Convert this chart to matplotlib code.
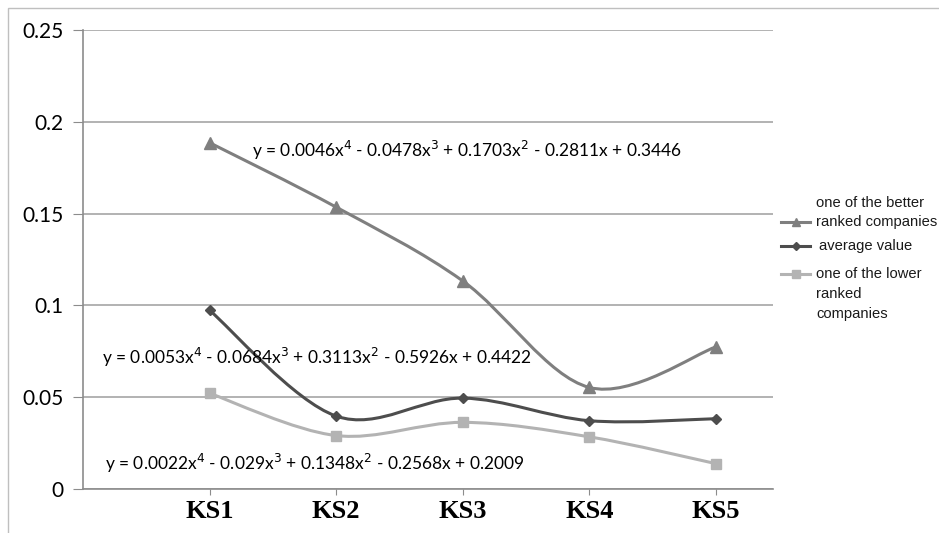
import matplotlib
matplotlib.use("Agg")
import matplotlib.pyplot as plt
import numpy as np
from matplotlib.path import Path
from matplotlib.patches import PathPatch, Rectangle
from matplotlib.lines import Line2D

# --- data
categories = ["KS1", "KS2", "KS3", "KS4", "KS5"]
better = [0.1886, 0.1535, 0.1133, 0.0553, 0.0774]
average = [0.0973, 0.0397, 0.0495, 0.0372, 0.0383]
lower = [0.0521, 0.0291, 0.0363, 0.0284, 0.0138]

eq_better = "y = 0.0046x$^4$ - 0.0478x$^3$ + 0.1703x$^2$ - 0.2811x + 0.3446"
eq_average = "y = 0.0053x$^4$ - 0.0684x$^3$ + 0.3113x$^2$ - 0.5926x + 0.4422"
eq_lower = "y = 0.0022x$^4$ - 0.029x$^3$ + 0.1348x$^2$ - 0.2568x + 0.2009"

c_better = "#7f7f7f"
c_average = "#4d4d4d"
c_lower = "#b3b3b3"


def smooth_path(xs, ys):
    # excel style smoothed line: catmull-rom as cubic bezier segments
    pts = np.column_stack([xs, ys]).astype(float)
    ext = np.vstack([pts[0], pts, pts[-1]])
    verts = [tuple(pts[0])]
    codes = [Path.MOVETO]
    for i in range(1, len(ext) - 2):
        p0, p1, p2, p3 = ext[i - 1], ext[i], ext[i + 1], ext[i + 2]
        c1 = p1 + (p2 - p0) / 6.0
        c2 = p2 - (p3 - p1) / 6.0
        verts += [tuple(c1), tuple(c2), tuple(p2)]
        codes += [Path.CURVE4] * 3
    return Path(verts, codes)


fig = plt.figure(figsize=(9.39, 5.33), dpi=100)
ax = fig.add_axes([83 / 939, 1 - 489 / 533, (773 - 83) / 939, (489 - 30) / 533])

x = np.arange(1, len(categories) + 1)

for ys, col, mk, ms in [(better, c_better, "^", 8),
                        (average, c_average, "D", 5.5),
                        (lower, c_lower, "s", 7.5)]:
    ax.add_patch(PathPatch(smooth_path(x, ys), fill=False, edgecolor=col,
                           lw=2.2, capstyle="round", joinstyle="round", zorder=3))
    ax.plot(x, ys, ls="none", marker=mk, ms=ms, color=col, mec=col, zorder=4)

ax.set_xlim(0, 5.45)
ax.set_ylim(0, 0.25)
ax.set_yticks([0, 0.05, 0.1, 0.15, 0.2, 0.25])
ax.set_yticklabels(["0", "0.05", "0.1", "0.15", "0.2", "0.25"],
                   fontfamily="Lato", fontsize=15)
ax.set_xticks(x)
ax.set_xticklabels(categories, fontfamily="Liberation Serif",
                   fontweight="bold", fontsize=19)
ax.grid(axis="y", color="#a6a6a6", lw=1.2)
ax.set_axisbelow(True)
for s in ["top", "right"]:
    ax.spines[s].set_visible(False)
for s in ["left", "bottom"]:
    ax.spines[s].set_color("#8c8c8c")
    ax.spines[s].set_linewidth(1.2)
ax.tick_params(axis="y", length=7, color="#8c8c8c", pad=7)
ax.tick_params(axis="x", length=4, color="#8c8c8c", pad=4)

# trendline equations
eq_kw = dict(fontfamily="Lato", fontsize=12.5, va="center", ha="left")
fig.text(252 / 939, 1 - 150 / 533, eq_better, **eq_kw)
fig.text(102 / 939, 1 - 357 / 533, eq_average, **eq_kw)
fig.text(105 / 939, 1 - 463 / 533, eq_lower, **eq_kw)

# legend drawn by hand
lg_kw = dict(fontfamily="Liberation Sans", fontsize=10.6, va="center", ha="left",
             color="#1a1a1a")
for ly, col, mk, ms in [(222, c_better, "^", 6), (246, c_average, "D", 4.5),
                        (274, c_lower, "s", 6)]:
    yy = 1 - ly / 533
    fig.add_artist(Line2D([781 / 939, 810 / 939], [yy, yy], color=col, lw=2.2,
                          transform=fig.transFigure))
    fig.add_artist(Line2D([795.5 / 939], [yy], color=col, marker=mk, ms=ms,
                          transform=fig.transFigure))
fig.text(816 / 939, 1 - 203 / 533, "one of the better", **lg_kw)
fig.text(816 / 939, 1 - 222 / 533, "ranked companies", **lg_kw)
fig.text(819 / 939, 1 - 246 / 533, "average value", **lg_kw)
fig.text(816 / 939, 1 - 274 / 533, "one of the lower", **lg_kw)
fig.text(816 / 939, 1 - 294 / 533, "ranked", **lg_kw)
fig.text(816 / 939, 1 - 314 / 533, "companies", **lg_kw)

# outer chart frame
fig.add_artist(Rectangle((8 / 939, -0.05), 1.2, 1 - 8 / 533 + 0.05,
                         transform=fig.transFigure, fill=False,
                         edgecolor="#bfbfbf", lw=1.0))

fig.savefig("out.png", dpi=100)
